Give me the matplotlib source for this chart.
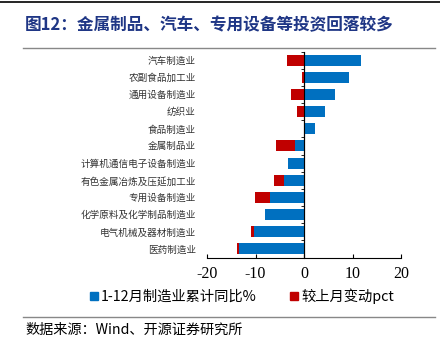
import numpy as np
import matplotlib.pyplot as plt
from matplotlib.lines import Line2D

# 数据（自上而下）
categories = ['汽车制造业', '农副食品加工业', '通用设备制造业', '纺织业', '食品制造业',
              '金属制品业', '计算机通信电子设备制造业', '有色金属冶炼及压延加工业',
              '专用设备制造业', '化学原料及化学制品制造业', '电气机械及器材制造业', '医药制造业']
cum_yoy = [11.8, 9.2, 6.3, 4.3, 2.2, -1.9, -3.2, -4.2, -7.1, -8.0, -10.3, -13.5]
mom_chg = [-3.6, -0.4, -2.6, -1.4, 0.0, -3.9, 0.0, -2.0, -3.1, 0.3, -0.7, -0.4]
xticks = [-20, -10, 0, 10, 20]

blue = '#0070C0'
red = '#C00000'
cjk = ['Noto Sans CJK SC', 'DejaVu Sans']
num = ['Liberation Serif', 'Noto Sans CJK SC']

fig = plt.figure(figsize=(4.4, 3.4), dpi=100)
ax = fig.add_axes([207 / 440, 1 - 257.5 / 340, 194 / 440, 206 / 340])

v = np.array(cum_yoy)
d = np.array(mom_chg)
y = np.arange(len(categories))[::-1]
# 堆积：同号接在蓝柱后面，异号从0开始
left = np.where(np.sign(d) == np.sign(v), v, 0)
ax.barh(y, v, height=0.65, color=blue, zorder=2)
ax.barh(y, d, left=left, height=0.65, color=red, zorder=2)

ax.set_xlim(-20, 20)
ax.set_ylim(-0.5, len(categories) - 0.5)
ax.set_xticks(xticks)
ax.set_xticklabels([str(t) for t in xticks], family=num, fontsize=11.5)
ax.set_yticks(y)
ax.set_yticklabels(categories, family=cjk, fontsize=6.9, color='#333333')
ax.tick_params(axis='y', length=0, pad=8)
ax.tick_params(axis='x', length=3, width=0.8, direction='in', pad=6)
for s in ['top', 'right', 'left']:
    ax.spines[s].set_visible(False)
ax.spines['bottom'].set_linewidth(0.8)
ax.axvline(0, color='black', lw=0.8, zorder=3)

sec = ax.secondary_yaxis(0.5)
sec.set_yticks(np.arange(len(categories) + 1) - 0.5)
sec.set_yticklabels([])
sec.tick_params(direction='in', length=2.5, width=0.6)
sec.spines['left'].set_visible(False)

handles = [Line2D([], [], marker='s', ls='', color=blue, markersize=6),
           Line2D([], [], marker='s', ls='', color=red, markersize=6)]
fig.legend(handles, ['1-12月制造业累计同比%', '较上月变动pct'],
           loc='center', bbox_to_anchor=(241 / 440, 1 - 296 / 340), ncol=2, frameon=False,
           prop={'family': cjk, 'size': 10.3}, handletextpad=0.1, columnspacing=2.2,
           handlelength=0.8)

fig.text(25 / 440, 1 - 25 / 340, '图12：金属制品、汽车、专用设备等投资回落较多',
         family=cjk, fontsize=12, fontweight='bold', color='#1F3685', va='center')
fig.text(25 / 440, 1 - 330 / 340, '数据来源：Wind、开源证券研究所',
         family=cjk, fontsize=10.2, color='black', va='center')
fig.add_artist(Line2D([0, 1], [1 - 1.5 / 340] * 2, color='black', lw=1.2))
fig.add_artist(Line2D([23 / 440, 435 / 440], [1 - 48 / 340] * 2, color='#888888', lw=1))
fig.add_artist(Line2D([23 / 440, 435 / 440], [1 - 317 / 340] * 2, color='#888888', lw=1))

fig.savefig('out.png', dpi=100)
